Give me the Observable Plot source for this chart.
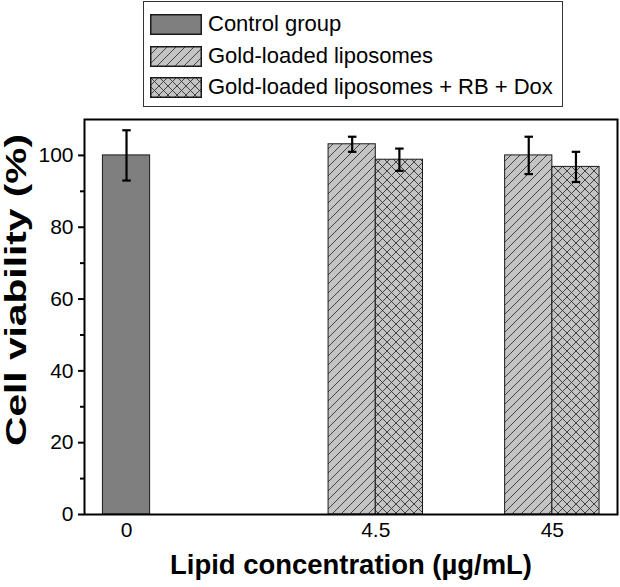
<!DOCTYPE html>
<html><head><meta charset="utf-8">
<script src="https://cdn.jsdelivr.net/npm/d3@7"></script>
<script src="https://cdn.jsdelivr.net/npm/@observablehq/plot@0.6"></script>
<style>
body{margin:0;background:#fff;font-family:"Liberation Sans",Arial,sans-serif;}
#wrap{position:relative;width:620px;height:587px;overflow:hidden;}
#legend{position:absolute;left:143px;top:1px;width:420px;height:106px;border:1.5px solid #333;box-sizing:border-box;background:#fff;}
.row{position:absolute;left:6px;height:20px;display:flex;align-items:center;}
.row svg{display:block;}
.row span{margin-left:6px;font-size:22px;color:#000;white-space:nowrap;line-height:20px;}
#chart{position:absolute;left:0;top:108px;}
</style></head>
<body>
<svg width="0" height="0" style="position:absolute">
  <defs>
    <pattern id="hatch" patternUnits="userSpaceOnUse" width="9" height="9">
      <rect width="9" height="9" fill="#c4c4c4"/>
      <path d="M-1,10 L10,-1 M-3,3 L3,-3 M6,12 L12,6" stroke="#333" stroke-width="0.9"/>
    </pattern>
    <pattern id="cross" patternUnits="userSpaceOnUse" width="9" height="9">
      <rect width="9" height="9" fill="#c4c4c4"/>
      <path d="M-1,10 L10,-1 M-3,3 L3,-3 M6,12 L12,6 M-1,-1 L10,10 M-3,6 L3,12 M6,-3 L12,3" stroke="#333" stroke-width="0.9"/>
    </pattern>
  </defs>
</svg>
<div id="wrap"><div id="legend"></div><div id="chart"></div></div>
<script>
// ---- data ----
const seriesNames = ["Control group", "Gold-loaded liposomes", "Gold-loaded liposomes + RB + Dox"];
const concentrations = ["0", "4.5", "45"];
const barConcentration = ["0", "4.5", "4.5", "45", "45"];
const barSeries = [0, 1, 2, 1, 2];
const barMean = [100.0, 103.1, 98.8, 100.0, 96.8];
const barSD = [7.0, 2.1, 3.1, 5.2, 4.2];
const yTicks = [0, 20, 40, 60, 80, 100];
const yMinorTicks = [10, 30, 50, 70, 90];
const yTitle = "Cell viability (%)";
const xTitle = "Lipid concentration (µg/mL)";

// ---- layout (not data) ----
const catPosition = {"0": 0.89, "4.5": 6.17, "45": 9.91};
const seriesOffset = [[-0.5, 0.5], [-1, 0], [0, 1]];
const seriesFill = ["#7f7f7f", "url(#hatch)", "url(#cross)"];
const capHalf = 0.09;

const rows = barMean.map((m, i) => {
  const c = catPosition[barConcentration[i]];
  const s = barSeries[i];
  const x1 = c + seriesOffset[s][0], x2 = c + seriesOffset[s][1];
  return {series: s, x1, x2, xc: (x1 + x2) / 2, mean: m, lo: m - barSD[i], hi: m + barSD[i]};
});

const tickPos = concentrations.map(c => catPosition[c]);
const posLabel = new Map(concentrations.map(c => [catPosition[c], c]));

const marks = [];
for (let s = 0; s < 3; s++) {
  marks.push(Plot.rectY(rows.filter(r => r.series === s), {
    x1: "x1", x2: "x2", y1: 0, y2: "mean",
    fill: seriesFill[s], stroke: "#1a1a1a", strokeWidth: 1
  }));
}
marks.push(
  Plot.ruleX(rows, {x: "xc", y1: "lo", y2: "hi", stroke: "#000", strokeWidth: 2.2}),
  Plot.link(rows, {x1: r => r.xc - capHalf, x2: r => r.xc + capHalf, y1: "hi", y2: "hi", stroke: "#000", strokeWidth: 2.2}),
  Plot.link(rows, {x1: r => r.xc - capHalf, x2: r => r.xc + capHalf, y1: "lo", y2: "lo", stroke: "#000", strokeWidth: 2.2}),
  Plot.axisY({ticks: yTicks, tickSize: 6, tickPadding: 5, fontSize: 21, label: null, strokeWidth: 2}),
  Plot.axisY({ticks: yMinorTicks, tickSize: 4, tickFormat: () => "", label: null, strokeWidth: 2}),
  Plot.axisX({ticks: tickPos, tickFormat: d => posLabel.get(d), tickSize: 0, tickPadding: 8, fontSize: 21, label: null}),
  Plot.text([yTitle], {frameAnchor: "left", textAnchor: "middle", dx: -68, dy: -27, rotate: -90, fontSize: 29, fontWeight: "bold", fill: "#000"}),
  Plot.text([xTitle], {frameAnchor: "bottom", dy: 59, fontSize: 28, fontWeight: "bold", fill: "#000"}),
  Plot.frame({stroke: "#000", strokeWidth: 2})
);

const chart = Plot.plot({
  width: 620, height: 479,
  marginTop: 11, marginBottom: 73, marginLeft: 84, marginRight: 3,
  x: {domain: [0, 11.29], axis: null},
  y: {domain: [0, 110], axis: null},
  style: {fontFamily: "Liberation Sans, Arial, sans-serif", fontSize: "21px", color: "#000", background: "transparent", overflow: "visible"},
  marks
});
document.getElementById("chart").appendChild(chart);

// stretch the titles to the reference's text length
d3.select(chart).selectAll("text").each(function() {
  const t = this.textContent;
  if (t === yTitle) d3.select(this).attr("textLength", 312).attr("lengthAdjust", "spacingAndGlyphs");
  if (t === xTitle) d3.select(this).attr("textLength", 362).attr("lengthAdjust", "spacingAndGlyphs");
});

// legend
const legend = document.getElementById("legend");
const rowTops = [12, 44, 75];
seriesNames.forEach((name, i) => {
  const row = document.createElement("div");
  row.className = "row";
  row.style.top = rowTops[i] + "px";
  const sw = document.createElementNS("http://www.w3.org/2000/svg", "svg");
  sw.setAttribute("width", 52); sw.setAttribute("height", 21);
  const r = document.createElementNS("http://www.w3.org/2000/svg", "rect");
  r.setAttribute("x", 0.75); r.setAttribute("y", 0.75); r.setAttribute("width", 50.5); r.setAttribute("height", 19.5);
  r.setAttribute("fill", seriesFill[i]); r.setAttribute("stroke", "#1a1a1a"); r.setAttribute("stroke-width", 1.5);
  sw.appendChild(r);
  row.appendChild(sw);
  const t = document.createElement("span");
  t.textContent = name;
  row.appendChild(t);
  legend.appendChild(row);
});
</script>
</body></html>
